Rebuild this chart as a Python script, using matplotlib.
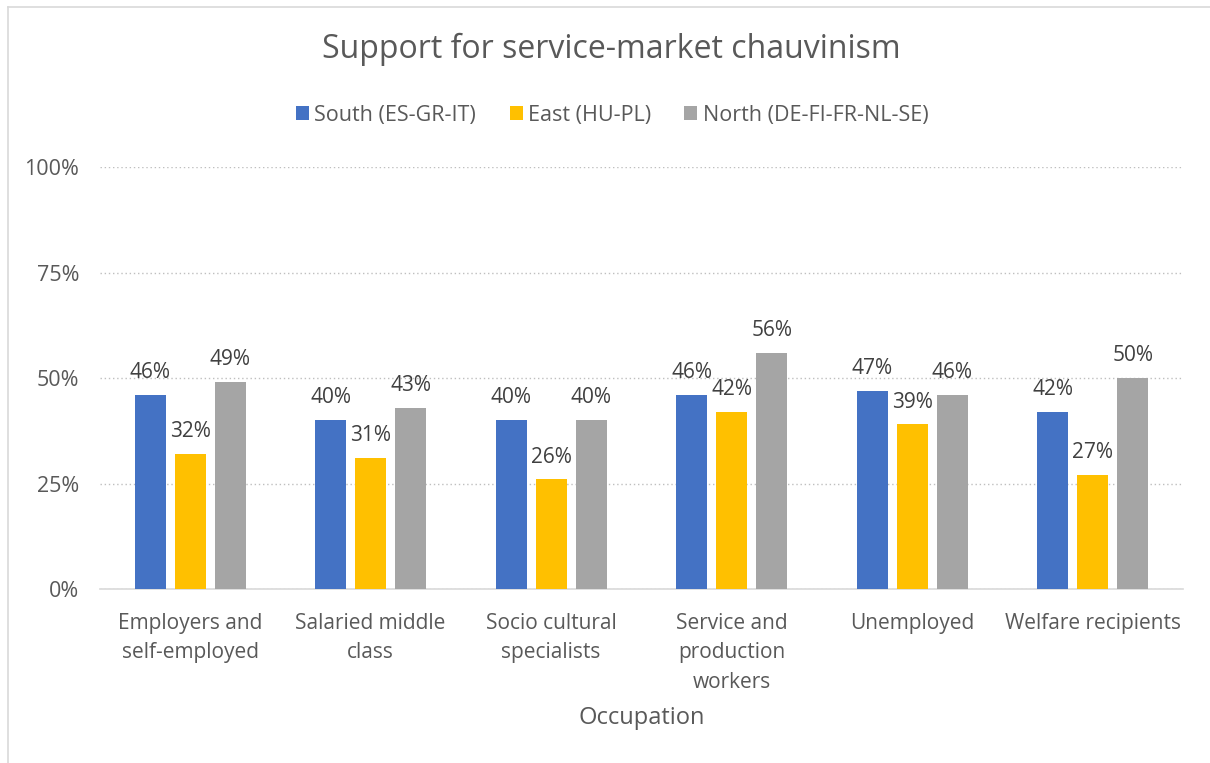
import matplotlib.pyplot as plt
import numpy as np

plt.rcParams['font.family'] = ['Open Sans', 'DejaVu Sans']

categories = ["Employers and\nself-employed", "Salaried middle\nclass", "Socio cultural\nspecialists",
              "Service and\nproduction\nworkers", "Unemployed", "Welfare recipients"]
series = ["South (ES-GR-IT)", "East (HU-PL)", "North (DE-FI-FR-NL-SE)"]
south = [46, 40, 40, 46, 47, 42]
east = [32, 31, 26, 42, 39, 27]
north = [49, 43, 40, 56, 46, 50]
colors = ["#4472c4", "#ffc000", "#a5a5a5"]

text_col = "#595959"
fig = plt.figure(figsize=(12.1, 7.63), dpi=100)
ax = fig.add_axes([0.0826, 0.228, 0.895, 0.553])

x = np.arange(len(categories))
width = 0.172
step = 0.222
for i, (vals, name, c) in enumerate(zip([south, east, north], series, colors)):
    pos = x + (i - 1) * step
    bars = ax.bar(pos, vals, width, color=c, label=name, zorder=3)
    for b, v in zip(bars, vals):
        ax.text(b.get_x() + b.get_width() / 2, v + 2.8, f"{v}%", ha='center', va='bottom',
                fontsize=15, color="#404040")

ax.set_xlim(-0.5, len(categories) - 0.5)
ax.set_ylim(0, 100)
ax.set_yticks([0, 25, 50, 75, 100])
ax.set_yticklabels([f"{t}%" for t in [0, 25, 50, 75, 100]])
ax.yaxis.grid(True, linestyle=(0, (1, 2)), color="#bfbfbf", linewidth=1, zorder=0)
ax.set_xticks(x)
ax.set_xticklabels(categories, fontsize=15, color=text_col, linespacing=1.55, va='top')
ax.tick_params(axis='y', labelsize=15.5, labelcolor=text_col, length=0, pad=15)
ax.tick_params(axis='x', length=0, pad=17)
for s in ['top', 'right', 'left']:
    ax.spines[s].set_visible(False)
ax.spines['bottom'].set_color("#d9d9d9")
ax.spines['bottom'].set_linewidth(1.2)
ax.set_xlabel("Occupation", fontsize=17, color=text_col, labelpad=9)

fig.text(0.505, 0.935, "Support for service-market chauvinism", ha='center', va='center',
         fontsize=23, color=text_col)
fig.legend(loc='center', bbox_to_anchor=(0.506, 0.849), ncol=3, frameon=False, fontsize=15.5,
           labelcolor=text_col, handlelength=0.6, handleheight=0.6, handletextpad=0.25,
           columnspacing=1.55)

# light frame round the chart area
fig.add_artist(plt.Line2D([0.0066, 0.0066], [0, 0.991], color="#d9d9d9", lw=1.2))
fig.add_artist(plt.Line2D([0.0066, 1.0], [0.991, 0.991], color="#d9d9d9", lw=1.2))

fig.savefig("out.png", dpi=100, facecolor='white')
